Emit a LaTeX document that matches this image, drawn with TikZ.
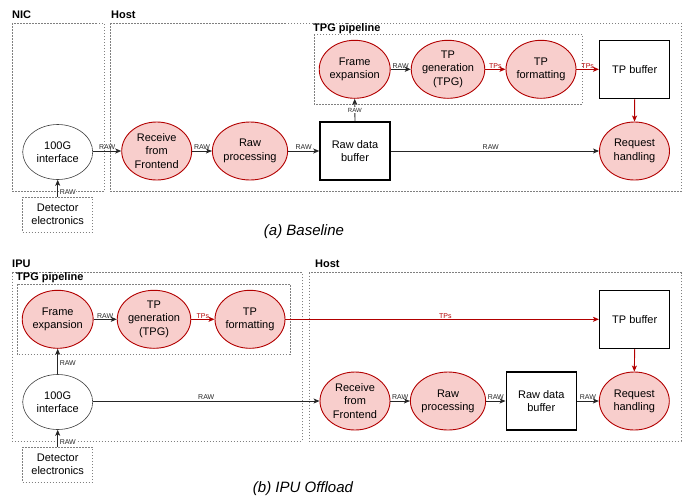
\documentclass[tikz,border=0pt]{standalone}
\usepackage{fontspec}
\setmainfont{Liberation Sans}
\usetikzlibrary{shapes.geometric,arrows.meta}
\definecolor{redfill}{HTML}{F8CECC}
\definecolor{tpred}{HTML}{B20000}
\definecolor{boxgray}{HTML}{808080}
\tikzset{
  proc/.style={ellipse,draw=tpred,line width=0.9pt,fill=redfill,minimum width=70pt,minimum height=58pt,inner sep=0pt,align=center,font=\fontsize{11}{13.3}\selectfont},
  ifc/.style={ellipse,draw=black!75,line width=0.6pt,fill=white,minimum width=70pt,minimum height=55pt,inner sep=0pt,align=center,font=\fontsize{11}{13.3}\selectfont},
  buf/.style={rectangle,draw=black,line width=1.5pt,fill=white,minimum width=70pt,minimum height=58pt,inner sep=0pt,align=center,font=\fontsize{11}{13.3}\selectfont},
  detbox/.style={rectangle,draw=boxgray,line width=0.6pt,dash pattern=on 1.5pt off 1.5pt,fill=white,minimum width=70pt,minimum height=35pt,inner sep=0pt,align=center,font=\fontsize{11}{13.3}\selectfont},
  container/.style={draw=boxgray,line width=0.6pt,dash pattern=on 1.5pt off 1.5pt},
  ctitle/.style={anchor=west,inner sep=0pt,font=\fontsize{11}{13}\selectfont\bfseries},
  flow/.style={-{Stealth[length=6pt,width=5pt,inset=1.5pt]},line width=0.9pt,black!85},
  tpflow/.style={-{Stealth[length=6pt,width=5pt,inset=1.5pt]},line width=0.9pt,tpred},
  elabel/.style={inner sep=0.6pt,font=\fontsize{7}{8}\selectfont},
  caption/.style={inner sep=0pt,font=\fontsize{15}{18}\selectfont\itshape},
}
\begin{document}
\begin{tikzpicture}[x=1pt,y=-1pt]
\useasboundingbox (0,0) rectangle (693,499);
% ---------------- (a) Baseline ----------------
\draw[container] (12,23) rectangle (104,191);
\node[ctitle] (nicT) at (12,14.5) {NIC};
\draw[container] (110,23) rectangle (681,191);
\node[ctitle] (hostAT) at (111,14.5) {Host};
\draw[container] (314,34) rectangle (582,104);
\node[ctitle] (tpgAT) at (313,28.5) {TPG pipeline};

\node[ifc] (ifA) at (57.7,152) {100G\\interface};
\node[detbox] (detA) at (57.7,214.5) {Detector\\electronics};
\node[proc] (recvA) at (156.7,151) {Receive\\from\\Frontend};
\node[proc] (rawpA) at (250,151) {Raw\\processing};
\node[buf] (rbufA) at (355,151) {Raw data\\buffer};
\node[proc] (reqA) at (634.5,151) {Request\\handling};
\node[proc] (frameA) at (354.7,69.3) {Frame\\expansion};
\node[proc] (tpgA) at (448,69.3) {TP\\generation\\(TPG)};
\node[proc] (tpfA) at (541,69.3) {TP\\formatting};
\node[buf] (tpbufA) at (634.7,69.3) {TP buffer};

\draw[flow] (detA.north) -- node[elabel,fill=white,anchor=west,pos=0.3,xshift=1pt] {RAW} (ifA.south);
\draw[flow] (ifA.east |- recvA) -- node[elabel,above] {RAW} (recvA.west);
\draw[flow] (recvA.east) -- node[elabel,above] {RAW} (rawpA.west);
\draw[flow] (rawpA.east) -- node[elabel,above] {RAW} (rbufA.west);
\draw[flow] (rbufA.east) -- node[elabel,above,pos=0.48] {RAW} (reqA.west);
\draw[flow] (rbufA.north) -- node[elabel,fill=white,font=\fontsize{6}{7}\selectfont] {RAW} (frameA.south);
\draw[flow] (frameA.east) -- node[elabel,above] {RAW} (tpgA.west);
\draw[tpflow] (tpgA.east) -- node[elabel,above,text=tpred] {TPs} (tpfA.west);
\draw[tpflow] (tpfA.east) -- node[elabel,above,text=tpred] {TPs} (tpbufA.west);
\draw[tpflow] (tpbufA.south) -- (reqA.north);

\node[caption] (capA) at (304,232) {(a) Baseline};

% ---------------- (b) IPU Offload ----------------
\draw[container] (12,272.7) rectangle (302,441);
\node[ctitle] (ipuT) at (12,264) {IPU};
\draw[container] (17,284) rectangle (290,354.3);
\node[ctitle] (tpgBT) at (16,277.7) {TPG pipeline};
\draw[container] (309,272.7) rectangle (681,441);
\node[ctitle] (hostBT) at (315,264) {Host};

\node[proc] (frameB) at (57.7,319.3) {Frame\\expansion};
\node[proc] (tpgB) at (154,319.3) {TP\\generation\\(TPG)};
\node[proc] (tpfB) at (250,319.3) {TP\\formatting};
\node[buf] (tpbufB) at (634.7,319.3) {TP buffer};
\node[ifc] (ifB) at (57.7,402) {100G\\interface};
\node[detbox] (detB) at (57.7,464.5) {Detector\\electronics};
\node[proc] (recvB) at (355,401) {Receive\\from\\Frontend};
\node[proc] (rawpB) at (448,401) {Raw\\processing};
\node[buf] (rbufB) at (541.3,401) {Raw data\\buffer};
\node[proc] (reqB) at (634.3,401) {Request\\handling};

\draw[flow] (detB.north) -- node[elabel,fill=white,anchor=west,pos=0.3,xshift=1pt] {RAW} (ifB.south);
\draw[flow] (ifB.north) -- node[elabel,fill=white,anchor=west,pos=0.45,xshift=1pt] {RAW} (frameB.south);
\draw[flow] (frameB.east) -- node[elabel,above] {RAW} (tpgB.west);
\draw[tpflow] (tpgB.east) -- node[elabel,above,text=tpred] {TPs} (tpfB.west);
\draw[tpflow] (tpfB.east) -- node[elabel,above,text=tpred,pos=0.51] {TPs} (tpbufB.west);
\draw[flow] (ifB.east |- recvB) -- node[elabel,above] {RAW} (recvB.west);
\draw[flow] (recvB.east) -- node[elabel,above] {RAW} (rawpB.west);
\draw[flow] (rawpB.east) -- node[elabel,above] {RAW} (rbufB.west);
\draw[flow] (rbufB.east) -- node[elabel,above] {RAW} (reqB.west);
\draw[tpflow] (tpbufB.south) -- (reqB.north);

\node[caption] (capB) at (303,489) {(b) IPU Offload};
\end{tikzpicture}
\end{document}
